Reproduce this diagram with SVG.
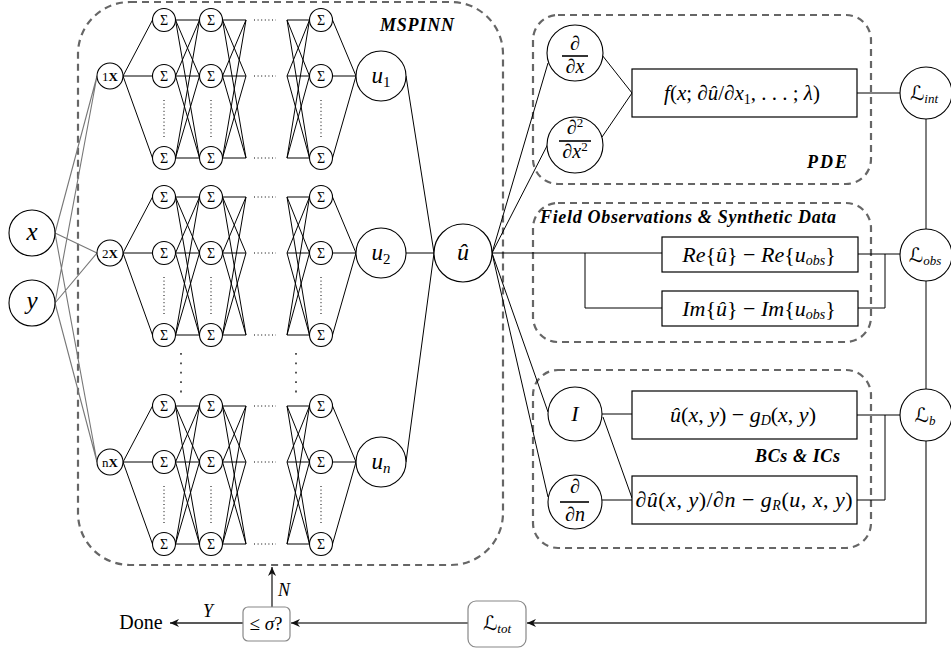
<svg xmlns="http://www.w3.org/2000/svg" width="951" height="653" viewBox="0 0 951 653">
<defs>
<style>
.ln{fill:none;stroke:#000;stroke-width:1}
.gl{fill:none;stroke:#777;stroke-width:1.1}
.dash{fill:none;stroke:#666;stroke-width:2.2;stroke-dasharray:7 5}
.nd{fill:#fff;stroke:#000;stroke-width:1.1}
.bx{fill:#fff;stroke:#000;stroke-width:1.2}
.rb{fill:#fff;stroke:#888;stroke-width:1.2}
.t{font-family:"Liberation Serif","DejaVu Serif",serif;fill:#000;text-anchor:middle}
.i{font-style:italic}
.sg{font-size:14px}
.lbl{font-family:"Liberation Serif","DejaVu Serif",serif;font-weight:bold;font-style:italic;font-size:18px;fill:#000}
.dt{fill:none;stroke:#000;stroke-width:1;stroke-dasharray:1 2.6}
.bd{fill:none;stroke:#444;stroke-width:1.8;stroke-dasharray:1.8 7.6}
.sc{font-family:"DejaVu Serif","DejaVu Sans",serif}
</style>
<marker id="ah" viewBox="0 0 10 10" refX="10" refY="5" markerWidth="10" markerHeight="9" orient="auto" markerUnits="userSpaceOnUse">
<path d="M0,0.5 L10,5 L0,9.5 L3,5 z" fill="#111"/>
</marker>
<path id="net" d="M123 76L152.5 20M123 76H152.5M123 76L152.5 158M175.5 20H199.5M175.5 20L199.5 76M175.5 20L199.5 158M175.5 76L199.5 20M175.5 76H199.5M175.5 76L199.5 158M175.5 158L199.5 20M175.5 158L199.5 76M175.5 158H199.5M222.5 20H246M222.5 20L246 76M222.5 20L246 158M222.5 76L246 20M222.5 76H246M222.5 76L246 158M222.5 158L246 20M222.5 158L246 76M222.5 158H246M287 20H309.5M287 20L309.5 76M287 20L309.5 158M287 76L309.5 20M287 76H309.5M287 76L309.5 158M287 158L309.5 20M287 158L309.5 76M287 158H309.5M332.5 20L356 76M332.5 76H356M332.5 158L356 76"/>
<path id="ndots" d="M254 20H276M254 76H276M254 158H276M164 100V138M211 100V138M321 100V138"/>
</defs>

<!-- dashed containers -->
<g id="containers">
<rect class="dash" x="78" y="2" width="425" height="563" rx="52"/>
<rect class="dash" x="533" y="15" width="338" height="169" rx="25"/>
<rect class="dash" x="533" y="203" width="338" height="139" rx="25"/>
<rect class="dash" x="533" y="370" width="338" height="178" rx="25"/>
<text class="lbl" x="380" y="31" textLength="74">MSPINN</text>
<text class="lbl" x="807" y="168" textLength="40">PDE</text>
<text class="lbl" x="540" y="223" textLength="296">Field Observations &amp; Synthetic Data</text>
<text class="lbl" x="755" y="462" textLength="85">BCs &amp; ICs</text>
</g>

<!-- connectors -->
<g id="connectors">
<path class="gl" d="M55 233L97 76M55 233L97 253M55 233L97 462M55 303L97 76M55 303L97 253M55 303L97 462"/>
<use href="#net" class="ln"/>
<use href="#net" class="ln" transform="translate(0,177)"/>
<use href="#net" class="ln" transform="translate(0,386)"/>
<use href="#ndots" class="dt"/>
<use href="#ndots" class="dt" transform="translate(0,177)"/>
<use href="#ndots" class="dt" transform="translate(0,386)"/>
<path class="bd" d="M181 353V393M296 353V393"/>
<path class="ln" d="M406 76L434 253M406 253H434M406 462L434 253"/>
<path class="ln" d="M492 253L548 63M492 253L550 140M492 253H662M585 253V308H662M492 253L548 412M492 253L548 497"/>
<path class="ln" d="M602 55L632 93M602 137L632 93M857 93H900"/>
<path class="ln" d="M858 254H900M885 254V308H858"/>
<path class="ln" d="M602 414H632M603 417L632 498M602 500H632M857 415H900M885 415V500H857"/>
<path class="ln" d="M926 119V229M926 281V389"/>
<path fill="none" stroke="#333" stroke-width="1.3" d="M926 441V623H527" marker-end="url(#ah)"/>
<path fill="none" stroke="#444" stroke-width="1.3" d="M468 623H291" marker-end="url(#ah)"/>
<path fill="none" stroke="#222" stroke-width="1.3" d="M243 623H170" marker-end="url(#ah)"/>
<path fill="none" stroke="#222" stroke-width="1.3" d="M272 607V567" marker-end="url(#ah)"/>
<text class="t i" x="208" y="617" font-size="18">Y</text>
<text class="t i" x="284" y="596" font-size="18">N</text>
</g>

<!-- inputs -->
<g id="in-x"><circle class="nd" cx="32" cy="233" r="23"/><text class="t i" x="32" y="240" font-size="25">x</text></g>
<g id="in-y"><circle class="nd" cx="32" cy="303" r="23"/><text class="t i" x="32" y="309" font-size="25">y</text></g>

<!-- scaling nodes -->
<g id="x1"><circle class="nd" cx="110" cy="76" r="13"/><text class="t" x="110" y="81" font-size="13">1<tspan font-weight="bold">X</tspan></text></g>
<g id="x2"><circle class="nd" cx="110" cy="253" r="13"/><text class="t" x="110" y="258" font-size="13">2<tspan font-weight="bold">X</tspan></text></g>
<g id="xn"><circle class="nd" cx="110" cy="462" r="13"/><text class="t" x="110" y="467" font-size="13">n<tspan font-weight="bold">X</tspan></text></g>

<!-- sigma neurons group 1 -->
<g id="s1-1-1"><circle class="nd" cx="164" cy="20" r="11.5"/><text class="t sg" x="164" y="25">Σ</text></g>
<g id="s1-1-2"><circle class="nd" cx="164" cy="76" r="11.5"/><text class="t sg" x="164" y="81">Σ</text></g>
<g id="s1-1-3"><circle class="nd" cx="164" cy="158" r="11.5"/><text class="t sg" x="164" y="163">Σ</text></g>
<g id="s1-2-1"><circle class="nd" cx="211" cy="20" r="11.5"/><text class="t sg" x="211" y="25">Σ</text></g>
<g id="s1-2-2"><circle class="nd" cx="211" cy="76" r="11.5"/><text class="t sg" x="211" y="81">Σ</text></g>
<g id="s1-2-3"><circle class="nd" cx="211" cy="158" r="11.5"/><text class="t sg" x="211" y="163">Σ</text></g>
<g id="s1-3-1"><circle class="nd" cx="321" cy="20" r="11.5"/><text class="t sg" x="321" y="25">Σ</text></g>
<g id="s1-3-2"><circle class="nd" cx="321" cy="76" r="11.5"/><text class="t sg" x="321" y="81">Σ</text></g>
<g id="s1-3-3"><circle class="nd" cx="321" cy="158" r="11.5"/><text class="t sg" x="321" y="163">Σ</text></g>
<!-- group 2 -->
<g id="s2-1-1"><circle class="nd" cx="164" cy="197" r="11.5"/><text class="t sg" x="164" y="202">Σ</text></g>
<g id="s2-1-2"><circle class="nd" cx="164" cy="253" r="11.5"/><text class="t sg" x="164" y="258">Σ</text></g>
<g id="s2-1-3"><circle class="nd" cx="164" cy="335" r="11.5"/><text class="t sg" x="164" y="340">Σ</text></g>
<g id="s2-2-1"><circle class="nd" cx="211" cy="197" r="11.5"/><text class="t sg" x="211" y="202">Σ</text></g>
<g id="s2-2-2"><circle class="nd" cx="211" cy="253" r="11.5"/><text class="t sg" x="211" y="258">Σ</text></g>
<g id="s2-2-3"><circle class="nd" cx="211" cy="335" r="11.5"/><text class="t sg" x="211" y="340">Σ</text></g>
<g id="s2-3-1"><circle class="nd" cx="321" cy="197" r="11.5"/><text class="t sg" x="321" y="202">Σ</text></g>
<g id="s2-3-2"><circle class="nd" cx="321" cy="253" r="11.5"/><text class="t sg" x="321" y="258">Σ</text></g>
<g id="s2-3-3"><circle class="nd" cx="321" cy="335" r="11.5"/><text class="t sg" x="321" y="340">Σ</text></g>
<!-- group n -->
<g id="sn-1-1"><circle class="nd" cx="164" cy="406" r="11.5"/><text class="t sg" x="164" y="411">Σ</text></g>
<g id="sn-1-2"><circle class="nd" cx="164" cy="462" r="11.5"/><text class="t sg" x="164" y="467">Σ</text></g>
<g id="sn-1-3"><circle class="nd" cx="164" cy="544" r="11.5"/><text class="t sg" x="164" y="549">Σ</text></g>
<g id="sn-2-1"><circle class="nd" cx="211" cy="406" r="11.5"/><text class="t sg" x="211" y="411">Σ</text></g>
<g id="sn-2-2"><circle class="nd" cx="211" cy="462" r="11.5"/><text class="t sg" x="211" y="467">Σ</text></g>
<g id="sn-2-3"><circle class="nd" cx="211" cy="544" r="11.5"/><text class="t sg" x="211" y="549">Σ</text></g>
<g id="sn-3-1"><circle class="nd" cx="321" cy="406" r="11.5"/><text class="t sg" x="321" y="411">Σ</text></g>
<g id="sn-3-2"><circle class="nd" cx="321" cy="462" r="11.5"/><text class="t sg" x="321" y="467">Σ</text></g>
<g id="sn-3-3"><circle class="nd" cx="321" cy="544" r="11.5"/><text class="t sg" x="321" y="549">Σ</text></g>

<!-- sub-network outputs -->
<g id="u1"><circle class="nd" cx="381" cy="76" r="25"/><text class="t" x="381" y="83" font-size="23"><tspan class="i">u</tspan><tspan font-size="15" dy="4">1</tspan></text></g>
<g id="u2"><circle class="nd" cx="381" cy="253" r="25"/><text class="t" x="381" y="260" font-size="23"><tspan class="i">u</tspan><tspan font-size="15" dy="4">2</tspan></text></g>
<g id="un"><circle class="nd" cx="381" cy="462" r="25"/><text class="t" x="381" y="469" font-size="23"><tspan class="i">u</tspan><tspan class="i" font-size="15" dy="4">n</tspan></text></g>
<g id="uhat"><circle class="nd" cx="463" cy="253" r="29"/><text class="t i" x="463" y="260" font-size="24">û</text></g>

<!-- PDE -->
<g id="dx"><circle class="nd" cx="575" cy="53" r="28"/><text class="t" x="575" y="50" font-size="20">∂</text><path d="M562 56H588" stroke="#000" stroke-width="1.6"/><text class="t" x="575" y="73" font-size="20">∂<tspan class="i">x</tspan></text></g>
<g id="dxx"><circle class="nd" cx="575" cy="145" r="28"/><text class="t" x="575" y="134" font-size="20">∂<tspan font-size="13" dy="-7">2</tspan></text><path d="M559 141H591" stroke="#000" stroke-width="1.6"/><text class="t" x="575" y="158" font-size="20">∂<tspan class="i">x</tspan><tspan font-size="13" dy="-7">2</tspan></text></g>
<g id="fbox"><rect class="bx" x="632" y="69" width="225" height="48"/><text class="t" x="742" y="100" font-size="21"><tspan class="i">f</tspan>(<tspan class="i">x</tspan>; ∂<tspan class="i">û</tspan>/∂<tspan class="i">x</tspan><tspan font-size="14" dy="4">1</tspan><tspan dy="-4">, . . . ; </tspan><tspan class="i">λ</tspan>)</text></g>
<g id="Lint"><circle class="nd" cx="926" cy="93" r="26"/><text class="t" x="924" y="100" font-size="20"><tspan class="sc i">ℒ</tspan><tspan class="i" font-size="13" dy="3">int</tspan></text></g>

<!-- observations -->
<g id="rebox"><rect class="bx" x="662" y="237" width="196" height="35"/><text class="t" x="759" y="262" font-size="22"><tspan class="i">Re</tspan>{<tspan class="i">û</tspan>} − <tspan class="i">Re</tspan>{<tspan class="i">u</tspan><tspan class="i" font-size="14" dy="3">obs</tspan><tspan dy="-3">}</tspan></text></g>
<g id="imbox"><rect class="bx" x="662" y="291" width="196" height="35"/><text class="t" x="759" y="316" font-size="22"><tspan class="i">Im</tspan>{<tspan class="i">û</tspan>} − <tspan class="i">Im</tspan>{<tspan class="i">u</tspan><tspan class="i" font-size="14" dy="3">obs</tspan><tspan dy="-3">}</tspan></text></g>
<g id="Lobs"><circle class="nd" cx="926" cy="255" r="26"/><text class="t" x="925" y="262" font-size="20"><tspan class="sc i">ℒ</tspan><tspan class="i" font-size="13" dy="3">obs</tspan></text></g>

<!-- BCs -->
<g id="Inode"><circle class="nd" cx="575" cy="414" r="27"/><text class="t i" x="575" y="421" font-size="22">I</text></g>
<g id="dn"><circle class="nd" cx="575" cy="502" r="27"/><text class="t" x="575" y="493" font-size="20">∂</text><path d="M560 502H589" stroke="#000" stroke-width="1.6"/><text class="t" x="575" y="521" font-size="20">∂<tspan class="i">n</tspan></text></g>
<g id="gdbox"><rect class="bx" x="632" y="391" width="225" height="48"/><text class="t" x="743" y="422" font-size="22"><tspan class="i">û</tspan>(<tspan class="i">x</tspan>, <tspan class="i">y</tspan>) − <tspan class="i">g</tspan><tspan class="i" font-size="14" dy="3">D</tspan><tspan dy="-3">(</tspan><tspan class="i">x</tspan>, <tspan class="i">y</tspan>)</text></g>
<g id="grbox"><rect class="bx" x="632" y="476" width="225" height="48"/><text class="t" x="744" y="507" font-size="22" textLength="217"><tspan>∂</tspan><tspan class="i">û</tspan>(<tspan class="i">x</tspan>, <tspan class="i">y</tspan>)/∂<tspan class="i">n</tspan> − <tspan class="i">g</tspan><tspan class="i" font-size="14" dy="3">R</tspan><tspan dy="-3">(</tspan><tspan class="i">u</tspan>, <tspan class="i">x</tspan>, <tspan class="i">y</tspan>)</text></g>
<g id="Lb"><circle class="nd" cx="926" cy="415" r="26"/><text class="t" x="925" y="422" font-size="20"><tspan class="sc i">ℒ</tspan><tspan class="i" font-size="13" dy="3">b</tspan></text></g>

<!-- loop -->
<g id="Ltot"><rect class="rb" x="468" y="601" width="58" height="46" rx="8"/><text class="t" x="497" y="630" font-size="20"><tspan class="sc i">ℒ</tspan><tspan class="i" font-size="13" dy="3">tot</tspan></text></g>
<g id="check"><rect class="rb" x="243" y="607" width="47" height="34" rx="5"/><text class="t" x="266" y="630" font-size="19">≤ <tspan class="i">σ</tspan>?</text></g>
<g id="done"><text class="t" x="141" y="629" font-size="20">Done</text></g>
</svg>
